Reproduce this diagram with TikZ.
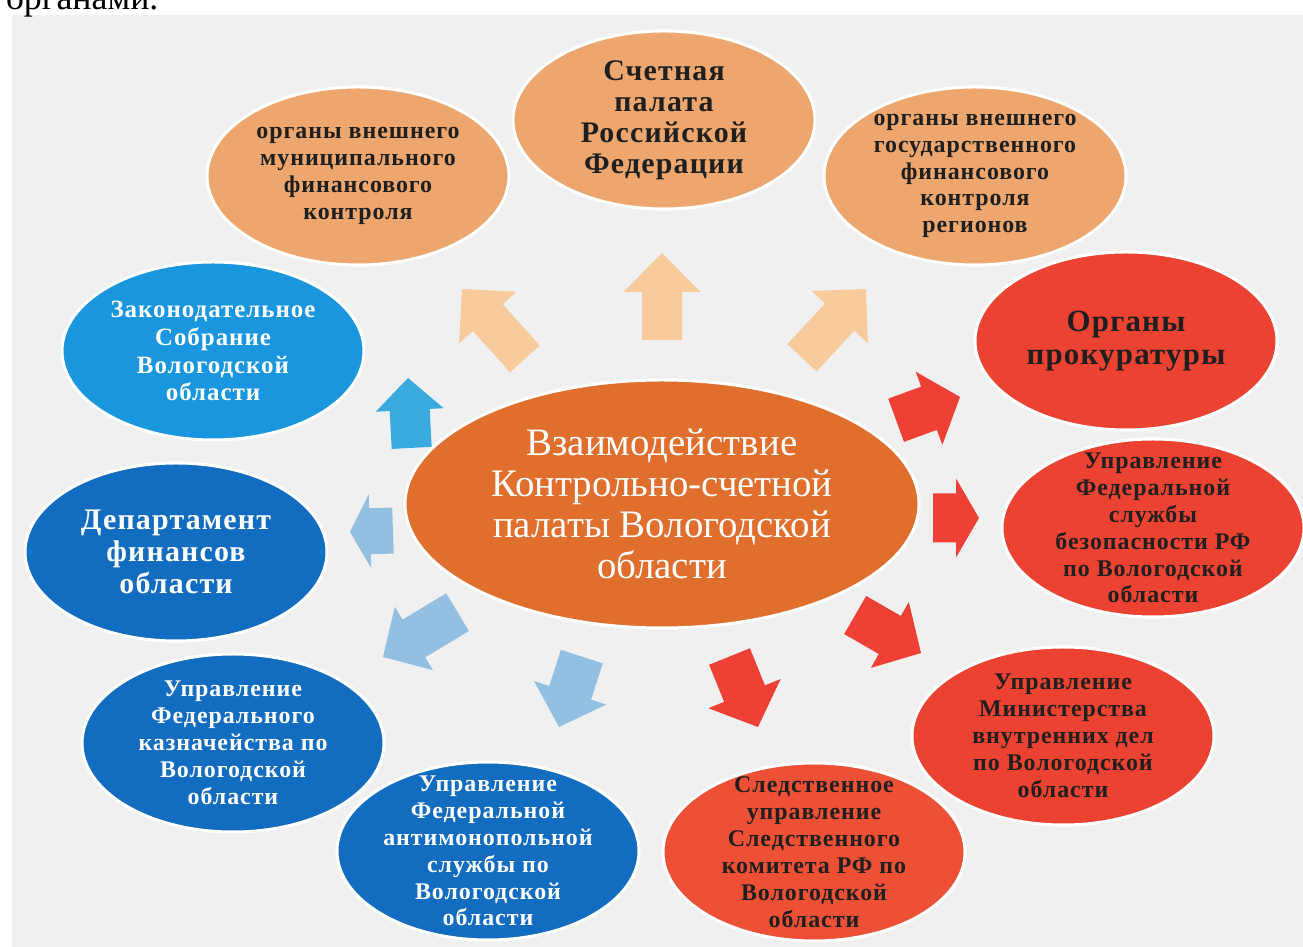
\documentclass[tikz,border=0pt]{standalone}
\usepackage{fontspec}
\setmainfont{Liberation Serif}
\newfontfamily\lblfont[LetterSpace=4]{Liberation Serif}
\usetikzlibrary{shapes.geometric}

% block arrow: colour, tip, angle, length, half stem, half head, head length
\newcommand\blkarr[7]{%
  \fill [#1,shift={#2},rotate=#3] (0bp,0bp) -- (-#7,#6) -- (-#7,#5) -- (-#4,#5)
    -- (-#4,-#5) -- (-#7,-#5) -- (-#7,-#6) -- cycle;}

\begin{document}
\begin{tikzpicture}[>=latex,line join=bevel,
  oval/.style={ellipse,draw=white,line width=1.5bp,minimum width=151bp,minimum height=89bp,
    inner xsep=-2bp,inner ysep=-12bp,align=center},
  txtsmall/.style={font=\lblfont\bfseries\fontsize{12}{13.5}\selectfont},
  txtbig/.style={font=\lblfont\bfseries\fontsize{15}{15.5}\selectfont},
  ]
  \pgfsetlinewidth{1bp}
%%
  \useasboundingbox (0bp,0bp) rectangle (651.5bp,473.5bp);
  \clip (0bp,0bp) rectangle (651.5bp,473.5bp);
  \definecolor{bgcol}{rgb}{0.94,0.94,0.94}
  \fill [bgcol] (6bp,0bp) rectangle (651.5bp,466bp);
  % Text: page line above the figure
  \node [anchor=base west,inner sep=0bp,font=\fontsize{18}{20}\selectfont] (pageline) at (2.5bp,468.5bp) {органами.};
  % Edge: center -> munic
  \definecolor{fillcol}{rgb}{0.969,0.796,0.608}
  \blkarr{fillcol}{(231bp,329bp)}{132}{47bp}{10bp}{19.25bp}{19.25bp}
  % Edge: center -> schet
  \blkarr{fillcol}{(331bp,347bp)}{90}{43.5bp}{10bp}{19.25bp}{19.5bp}
  % Edge: center -> gos
  \blkarr{fillcol}{(433bp,329bp)}{47}{47bp}{10bp}{19.25bp}{19.25bp}
  % Edge: center -> prok
  \definecolor{fillcol}{rgb}{0.933,0.251,0.204}
  \blkarr{fillcol}{(480bp,275bp)}{20}{34bp}{11.5bp}{19.5bp}{16.5bp}
  % Edge: center -> fsb
  \blkarr{fillcol}{(489.5bp,214.5bp)}{0}{23bp}{12.25bp}{19.75bp}{11.5bp}
  % Edge: center -> mvd
  \blkarr{fillcol}{(460.5bp,147bp)}{-30}{38bp}{11bp}{19bp}{18bp}
  % Edge: center -> sk
  \blkarr{fillcol}{(379bp,110bp)}{-68}{38bp}{11bp}{19.5bp}{18bp}
  % Edge: center -> fas
  \definecolor{fillcol}{rgb}{0.576,0.749,0.878}
  \blkarr{fillcol}{(279.5bp,110bp)}{-108}{37bp}{11bp}{19bp}{18bp}
  % Edge: center -> kazn
  \blkarr{fillcol}{(191.5bp,145bp)}{211}{43.5bp}{11bp}{18.5bp}{18bp}
  % Edge: center -> depfin
  \blkarr{fillcol}{(175bp,207.5bp)}{182}{21.5bp}{11.5bp}{18.5bp}{10bp}
  % Edge: center -> zaks
  \definecolor{fillcol}{rgb}{0.227,0.667,0.878}
  \blkarr{fillcol}{(204bp,284.5bp)}{93}{35bp}{10bp}{17bp}{16bp}
  % Node: center
\begin{scope}
  \definecolor{fillcol}{rgb}{0.878,0.431,0.176}
  \node [oval,fill=fillcol,minimum width=257bp,minimum height=124bp,inner sep=0bp,text=white,
    font=\fontsize{19.5}{20.5}\selectfont] (center) at (331bp,221.5bp)
    {Взаимодействие\\Контрольно-счетной\\палаты Вологодской\\области};
\end{scope}
  % Node: munic
\begin{scope}
  \definecolor{fillcol}{rgb}{0.925,0.651,0.431}
  \definecolor{textcol}{rgb}{0.12,0.12,0.12}
  \node [oval,txtsmall,fill=fillcol,text=textcol] (munic) at (179bp,385.5bp)
    {органы внешнего\\муниципального\\финансового\\контроля};
\end{scope}
  % Node: schet
\begin{scope}
  \definecolor{fillcol}{rgb}{0.925,0.651,0.431}
  \definecolor{textcol}{rgb}{0.12,0.12,0.12}
  \node [oval,txtbig,fill=fillcol,text=textcol] (schet) at (332bp,413.5bp)
    {Счетная\\палата\\Российской\\Федерации};
\end{scope}
  % Node: gos
\begin{scope}
  \definecolor{fillcol}{rgb}{0.925,0.651,0.431}
  \definecolor{textcol}{rgb}{0.12,0.12,0.12}
  \node [oval,txtsmall,fill=fillcol,text=textcol] (gos) at (487.5bp,385.5bp)
    {органы внешнего\\государственного\\финансового\\контроля\\регионов};
\end{scope}
  % Node: prok
\begin{scope}
  \definecolor{fillcol}{rgb}{0.925,0.259,0.196}
  \definecolor{textcol}{rgb}{0.12,0.12,0.12}
  \node [oval,fill=fillcol,text=textcol,font=\lblfont\bfseries\fontsize{15.5}{16.5}\selectfont] (prok) at (563bp,303bp)
    {Органы\\прокуратуры};
\end{scope}
  % Node: fsb
\begin{scope}
  \definecolor{fillcol}{rgb}{0.925,0.259,0.196}
  \definecolor{textcol}{rgb}{0.12,0.12,0.12}
  \node [oval,txtsmall,fill=fillcol,text=textcol] (fsb) at (576.5bp,209.5bp)
    {Управление\\Федеральной\\службы\\безопасности РФ\\по Вологодской\\области};
\end{scope}
  % Node: mvd
\begin{scope}
  \definecolor{fillcol}{rgb}{0.925,0.259,0.196}
  \definecolor{textcol}{rgb}{0.12,0.12,0.12}
  \node [oval,txtsmall,fill=fillcol,text=textcol] (mvd) at (531.5bp,105.5bp)
    {Управление\\Министерства\\внутренних дел\\по Вологодской\\области};
\end{scope}
  % Node: sk
\begin{scope}
  \definecolor{fillcol}{rgb}{0.929,0.314,0.204}
  \definecolor{textcol}{rgb}{0.12,0.12,0.12}
  \node [oval,txtsmall,fill=fillcol,text=textcol] (sk) at (407bp,47.5bp)
    {Следственное\\управление\\Следственного\\комитета РФ по\\Вологодской\\области};
\end{scope}
  % Node: fas
\begin{scope}
  \definecolor{fillcol}{rgb}{0.071,0.424,0.753}
  \node [oval,txtsmall,fill=fillcol,text=white] (fas) at (244bp,48bp)
    {Управление\\Федеральной\\антимонопольной\\службы по\\Вологодской\\области};
\end{scope}
  % Node: kazn
\begin{scope}
  \definecolor{fillcol}{rgb}{0.071,0.424,0.753}
  \node [oval,txtsmall,fill=fillcol,text=white] (kazn) at (116.5bp,102bp)
    {Управление\\Федерального\\казначейства по\\Вологодской\\области};
\end{scope}
  % Node: depfin
\begin{scope}
  \definecolor{fillcol}{rgb}{0.071,0.424,0.753}
  \node [oval,fill=fillcol,text=white,font=\lblfont\bfseries\fontsize{15}{16}\selectfont] (depfin) at (88bp,197.5bp)
    {Департамент\\финансов\\области};
\end{scope}
  % Node: zaks
\begin{scope}
  \definecolor{fillcol}{rgb}{0.098,0.588,0.871}
  \node [oval,fill=fillcol,text=white,font=\lblfont\bfseries\fontsize{12.5}{14}\selectfont] (zaks) at (106.5bp,298bp)
    {Законодательное\\Собрание\\Вологодской\\области};
\end{scope}
%
\end{tikzpicture}
\end{document}
